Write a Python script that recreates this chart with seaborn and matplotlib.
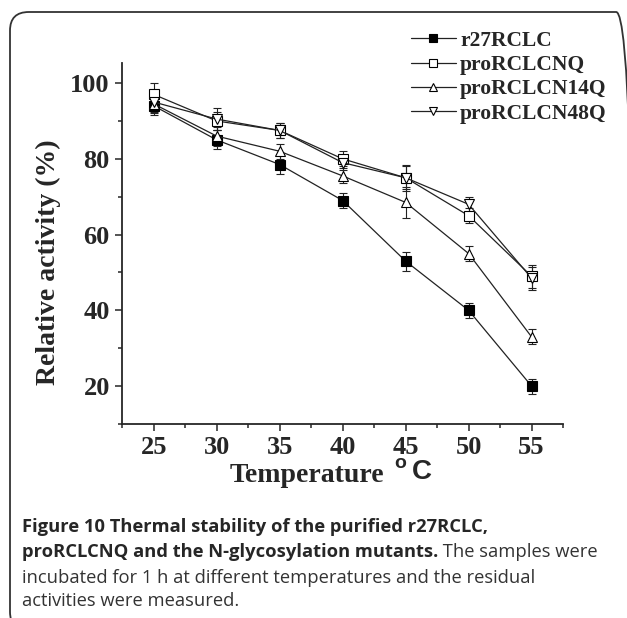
import matplotlib
matplotlib.use("Agg")
import matplotlib.pyplot as plt
from matplotlib.patches import FancyBboxPatch
from matplotlib.ticker import MultipleLocator
import seaborn as sns

# data
temps = [25, 30, 35, 40, 45, 50, 55]
r27rclc = [94, 85, 78.5, 69, 53, 40, 20]
r27rclc_err = [2.5, 2.5, 2.5, 2, 2.5, 2, 2]
pro_nq = [97, 90, 87.5, 80, 75, 65, 49]
pro_nq_err = [3, 2.5, 2, 2, 3.5, 2, 3]
pro_n14q = [94.5, 86, 82, 75.5, 68.5, 55, 33]
pro_n14q_err = [2.5, 2.5, 2, 2, 4, 2, 2]
pro_n48q = [95, 90.5, 87.5, 79, 75, 68, 48.5]
pro_n48q_err = [2.5, 3, 2, 2, 3, 2, 3]

names = ["r27RCLC", "proRCLCNQ", "proRCLCN14Q", "proRCLCN48Q"]
values = [r27rclc, pro_nq, pro_n14q, pro_n48q]
errors = [r27rclc_err, pro_nq_err, pro_n14q_err, pro_n48q_err]
markers = ["s", "s", "^", "v"]
faces = ["black", "white", "white", "white"]

sns.set_style("ticks")
plt.rcParams["font.family"] = ["Liberation Serif", "DejaVu Serif"]
plt.rcParams["mathtext.fontset"] = "custom"
plt.rcParams["mathtext.bf"] = "Liberation Sans:bold"
plt.rcParams["mathtext.rm"] = "Liberation Sans:bold"

fig = plt.figure(figsize=(6.27, 6.18), dpi=100)
ax = fig.add_axes([0.195, 0.314, 0.703, 0.584])

handles = []
for name, val, err, m, fc in zip(names, values, errors, markers, faces):
    ax.errorbar(temps, val, yerr=err, fmt="none", ecolor="#222222",
                elinewidth=0.8, capsize=3, capthick=0.8, zorder=2)
    sns.lineplot(x=temps, y=val, ax=ax, color="#222222", linewidth=0.9,
                 marker=m, markersize=7, markerfacecolor=fc,
                 markeredgecolor="black", markeredgewidth=0.8, zorder=3)
    handles.append(ax.lines[-1])

ax.set_xlim(22.5, 57.5)
ax.set_ylim(10, 105.3)
ax.set_xticks(temps)
ax.set_yticks([20, 40, 60, 80, 100])
ax.xaxis.set_minor_locator(MultipleLocator(2.5))
ax.yaxis.set_minor_locator(MultipleLocator(10))
ax.tick_params(which="major", direction="out", length=5, width=1.1, pad=4,
               labelsize=19)
ax.tick_params(which="minor", direction="out", length=3, width=1.1)
for lab in ax.get_xticklabels() + ax.get_yticklabels():
    lab.set_fontweight("bold")
sns.despine(ax=ax)
for s in ["left", "bottom"]:
    ax.spines[s].set_linewidth(1.3)
ax.set_xlabel("")
ax.set_ylabel("")

fig.text(0.077, 1 - 262 / 618, "Relative activity (%)", rotation=90,
         ha="center", va="center", fontsize=20, fontweight="bold")
t_temp = fig.text(307 / 627, 1 - 476 / 618, "Temperature", ha="center",
                  va="center", fontsize=20, fontweight="bold")
ax.annotate(r"$^{\mathbf{o}}\,\mathbf{C}$", xy=(1, 0.12), xycoords=t_temp,
            xytext=(10, 0), textcoords="offset pixels", ha="left",
            va="bottom", fontsize=20, annotation_clip=False)

fig.legend(handles, names, loc="upper left",
           bbox_to_anchor=(402 / 627, 1 - 22 / 618), frameon=False,
           prop={"family": "Liberation Serif", "weight": "bold", "size": 15.5},
           handlelength=2.1, handletextpad=0.2, labelspacing=0.2,
           borderaxespad=0, markerscale=0.8)

# caption
cap = {"family": "Open Sans", "fontsize": 13.2}
fig.text(22 / 627, 1 - 527 / 618,
         "Figure 10 Thermal stability of the purified r27RCLC,",
         va="center", fontweight="bold", **cap)
t_bold = fig.text(22 / 627, 1 - 552 / 618,
                  "proRCLCNQ and the N-glycosylation mutants.",
                  va="center", fontweight="bold", **cap)
ax.annotate(" The samples were", xy=(1, 0), xycoords=t_bold, ha="left",
            va="bottom", color="#333333", annotation_clip=False,
            family="Open Sans", fontsize=13.2)
fig.text(22 / 627, 1 - 578 / 618,
         "incubated for 1 h at different temperatures and the residual",
         va="center", color="#333333", **cap)
fig.text(22 / 627, 1 - 601 / 618, "activities were measured.",
         va="center", color="#333333", **cap)

# rounded frame around the figure
frame = FancyBboxPatch((10 / 627, -0.02), 625 / 627, 1 - 12 / 618 + 0.02,
                       boxstyle="round,pad=0,rounding_size=0.03",
                       transform=fig.transFigure, fill=False,
                       edgecolor="#333333", linewidth=1.3)
fig.add_artist(frame)

fig.savefig("out.png", dpi=100)
